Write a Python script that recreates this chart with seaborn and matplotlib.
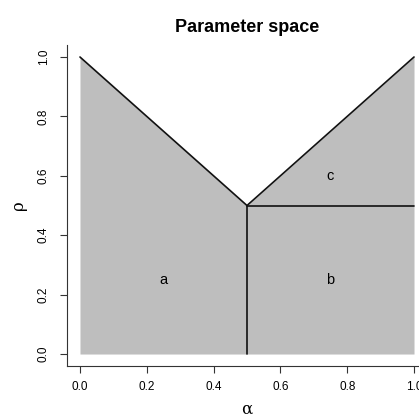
import matplotlib
matplotlib.use('Agg')
import matplotlib.pyplot as plt
import numpy as np
import seaborn as sns

sns.set_style('ticks')
plt.rcParams['font.family'] = ['Liberation Sans', 'DejaVu Sans']
plt.rcParams['text.color'] = 'black'
plt.rcParams['axes.labelcolor'] = 'black'

# boundary of the region (V shape)
v_alpha = [0.0, 0.5, 1.0]
v_rho = [1.0, 0.5, 1.0]
# vertical divider
div_alpha = [0.5, 0.5]
div_rho = [0.0, 0.5]
# horizontal divider
hor_alpha = [0.5, 1.0]
hor_rho = [0.5, 0.5]
# region labels
region_names = ['a', 'b', 'c']
region_alpha = [0.25, 0.75, 0.75]
region_rho = [0.25, 0.25, 0.6]
ticks = [0.0, 0.2, 0.4, 0.6, 0.8, 1.0]
tick_labels = ['0.0', '0.2', '0.4', '0.6', '0.8', '1.0']

fig = plt.figure(figsize=(4.19, 4.19), dpi=100)
ax = fig.add_axes([0.159, 0.1267, 0.861, 0.7656])

ax.fill_between(v_alpha, 0, v_rho, color='#bebebe', linewidth=0)
for xs, ys in [(v_alpha, v_rho), (div_alpha, div_rho), (hor_alpha, hor_rho)]:
    sns.lineplot(x=xs, y=ys, ax=ax, sort=False, estimator=None,
                 color='#111111', linewidth=1.2)

for name, xa, yr in zip(region_names, region_alpha, region_rho):
    ax.text(xa, yr, name, ha='center', va='center', fontsize=10.5, color='black')

ax.set_xlim(-0.04, 1.04)
ax.set_ylim(-0.04, 1.04)
ax.set_xticks(ticks)
ax.set_xticklabels(tick_labels, fontsize=8.5)
ax.set_yticks(ticks)
ax.set_yticklabels(tick_labels, fontsize=8.5, rotation=90, va='center')
ax.tick_params(axis='x', length=5, width=0.8, pad=6, colors='#333333', labelcolor='black')
ax.tick_params(axis='y', length=5, width=0.8, pad=7, colors='#333333', labelcolor='black')
sns.despine(ax=ax)
for s in ['left', 'bottom']:
    ax.spines[s].set_linewidth(0.8)
    ax.spines[s].set_color('#333333')

# axis titles placed like R's mtext
fig.text(0.589, 0.024, 'α', ha='center', va='center', fontsize=12,
         family=['DejaVu Serif'])
fig.text(0.045, 0.511, 'ρ', ha='center', va='center', fontsize=12,
         rotation=90, family=['DejaVu Serif'])
fig.text(0.589, 0.935, 'Parameter space', ha='center', va='center',
         fontsize=13, fontweight='bold', color='black')

fig.savefig('out.png', dpi=100)
